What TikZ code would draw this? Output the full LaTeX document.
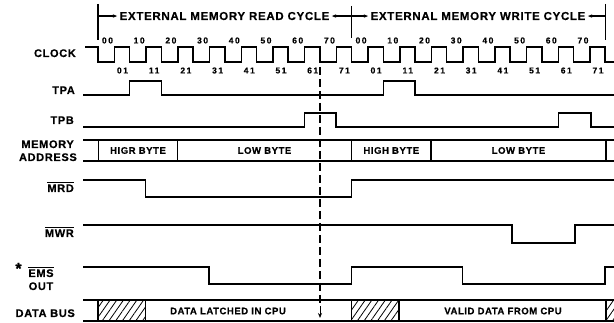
\documentclass[tikz,border=0pt]{standalone}
\usepackage{fontspec}
\newfontfamily\tdfont{Liberation Sans}[LetterSpace=6, BoldFeatures={FakeBold=0.4}]
\newfontfamily\tdnum{Liberation Sans}[LetterSpace=18, BoldFeatures={FakeBold=0.4}]
\usetikzlibrary{arrows.meta, patterns.meta}
\newcommand\barred[1]{\vbox{\hrule height 1.1pt\kern 1.3pt\hbox{#1}}}

\begin{document}
\begin{tikzpicture}[
    x=1pt, y=-1pt,
    sig/.style={line width=1.5pt},
    lbl/.style={font=\tdfont\bfseries\fontsize{11}{13}\selectfont, anchor=base east, inner sep=0pt},
    hdr/.style={font=\tdfont\bfseries\fontsize{11.5}{13}\selectfont, anchor=base, inner sep=1.5pt},
    busText/.style={font=\tdfont\bfseries\fontsize{9.5}{11}\selectfont, inner sep=0pt},
    num/.style={font=\tdnum\bfseries\fontsize{8.5}{9}\selectfont, inner sep=0pt},
    hdrArrow/.style={-{Latex[length=5pt, width=3.5pt]}, line width=1.3pt},
    hatch/.style={pattern={Lines[angle=55, distance=5.5pt, line width=0.8pt]}},
    latch/.style={line width=1.1pt, dash pattern=on 8pt off 4pt}
]
    \def\per{31.7}
    \useasboundingbox (0,0) rectangle (614,323);

    % Header
    \coordinate (m0) at (98,4);
    \coordinate (m1) at (351.6,6);
    \coordinate (m2) at (605.8,4);
    \draw[line width=1.3pt] (m0) -- ++(0,36) (m1) -- ++(0,32) (m2) -- ++(0,36);
    \node[hdr] (rd) at (224.5,20) {EXTERNAL MEMORY READ CYCLE};
    \node[hdr] (wr) at (478,20) {EXTERNAL MEMORY WRITE CYCLE};
    \draw[hdrArrow] (m0 |- rd.west) -- (rd.west);
    \draw[hdrArrow] (m1 |- rd.east) -- (rd.east);
    \draw[hdrArrow] (m1 |- wr.west) -- (wr.west);
    \draw[hdrArrow] (m2 |- wr.east) -- (wr.east);

    % Labels
    \node[lbl] (clk) at (76,57) {CLOCK};
    \node[lbl] (tpa) at (75,94) {TPA};
    \node[lbl] (tpb) at (74,124) {TPB};
    \node[lbl] (mem) at (74,148) {MEMORY};
    \node[lbl] (addr) at (77,161) {ADDRESS};
    \node[lbl] (mrd) at (74,192) {\barred{MRD}};
    \node[lbl] (mwr) at (74,237) {\barred{MWR}};
    \node[font=\tdfont\bfseries\fontsize{16}{16}\selectfont, anchor=base, inner sep=0pt] (star) at (18.5,274) {*};
    \node[lbl, anchor=base] (ems) at (41,277) {\barred{EMS}};
    \node[lbl, anchor=base] (emsOut) at (41,290) {OUT};
    \node[lbl] (dbus) at (75,317) {DATA BUS};

    % Clock with state numbers
    \draw[sig] (85,47) foreach \k in {0,...,15} { -- ({98+\k*\per},47) -- ({98+\k*\per},62) -- ({114.5+\k*\per},62) -- ({114.5+\k*\per},47) } -- (605.2,47) -- (605.2,62) -- (614,62);
    \foreach \c in {0,1}
        \foreach \k in {0,...,7} {
            \node[num] (t\c\k) at ({98+(8*\c+\k)*\per+9.5},40.5) {\k0};
            \node[num] (b\c\k) at ({98+(8*\c+\k)*\per+24.5},70.5) {\k1};
        }

    % TPA, TPB
    \draw[sig] (83,95) -- (129.7,95) -- (129.7,81) -- (161.4,81) -- (161.4,95) -- (383.3,95) -- (383.3,81) -- (415,81) -- (415,95) -- (614,95);
    \draw[sig] (83,127) -- (304.5,127) -- (304.5,113) -- (336,113) -- (336,127) -- (558.5,127) -- (558.5,113) -- (591,113) -- (591,127) -- (614,127);

    % Memory address bus
    \draw[sig] (83,140) -- (614,140) (83,161) -- (614,161);
    \foreach \x in {98.5,177.5,351.6,431,605.8}
        \draw[sig] (\x,140) -- (\x,161);
    \node[busText] (hi1) at (138,150.5) {HIGR BYTE};
    \node[busText] (lo1) at (264.5,150.5) {LOW BYTE};
    \node[busText] (hi2) at (391.3,150.5) {HIGH BYTE};
    \node[busText] (lo2) at (518.5,150.5) {LOW BYTE};

    % MRD, MWR, EMS OUT
    \draw[sig] (83,180) -- (145.5,180) -- (145.5,197) -- (351.6,197) -- (351.6,180) -- (614,180);
    \draw[sig] (83,225) -- (512,225) -- (512,243) -- (575,243) -- (575,225) -- (614,225);
    \draw[sig] (83,267) -- (209,267) -- (209,284) -- (351.6,284) -- (351.6,267) -- (462.5,267) -- (462.5,284) -- (605.2,284) -- (605.2,267) -- (614,267);

    % Data bus
    \fill[hatch] (98,300) rectangle (145.5,321) (351.6,300) rectangle (399,321) (605.8,300) rectangle (614,321);
    \draw[sig] (83,300) -- (614,300) (83,321) -- (614,321);
    \foreach \x in {98,145.5,351.6,399,605.8}
        \draw[sig] (\x,300) -- (\x,321);
    \node[busText] (latched) at (228,311) {DATA LATCHED IN CPU};
    \node[busText] (valid) at (503,311) {VALID DATA FROM CPU};

    % Latch point
    \coordinate (latchTop) at (320,67);
    \coordinate (latchBus) at (320,303);
    \coordinate (latchEnd) at (320,318);
    \draw[latch] (latchTop) -- (latchBus);
    \draw[-{Stealth[length=5pt, width=4pt]}, line width=0.9pt] (320,306) -- (latchEnd);
\end{tikzpicture}
\end{document}
